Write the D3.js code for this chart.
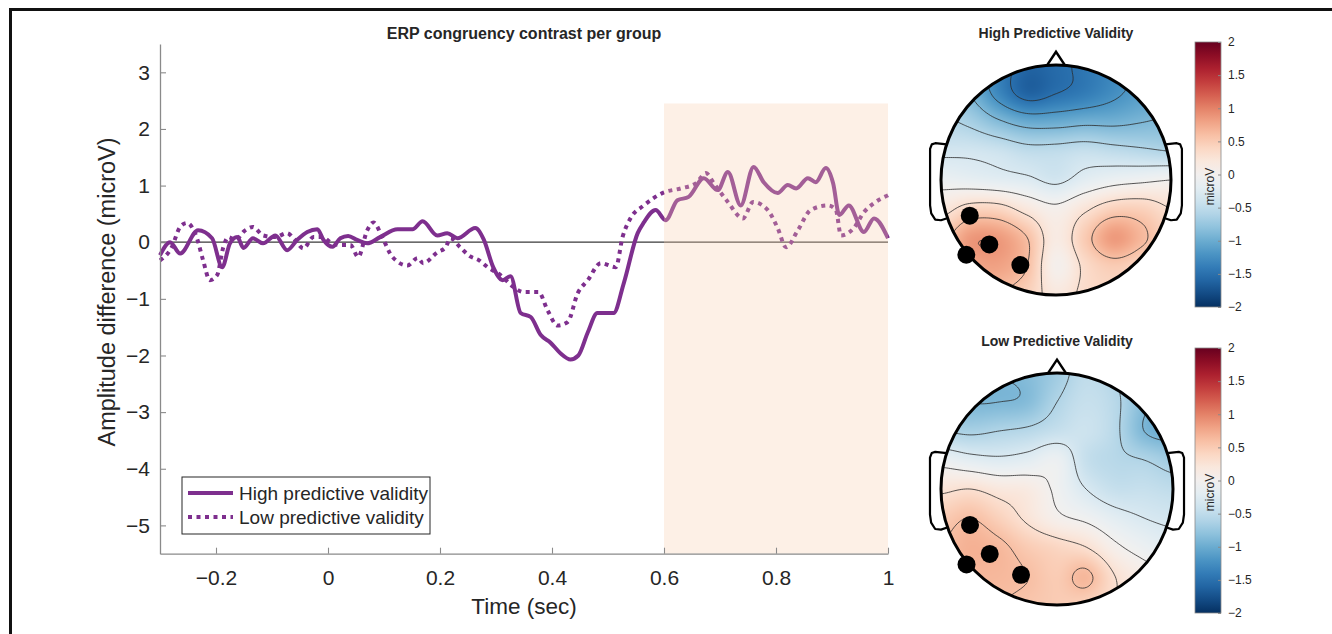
<!DOCTYPE html>
<html lang="en">
<head>
    <meta charset="UTF-8">
    <title>ERP congruency contrast per group</title>
    <script src="https://d3js.org/d3.v7.min.js"></script>
    <style>
        html, body {
            margin: 0;
            padding: 0;
            background: #ffffff;
        }
        svg text {
            font-family: "Liberation Sans", Arial, Helvetica, sans-serif;
            fill: #262626;
        }
    </style>
</head>
<body>
<svg id="canvas" width="1332" height="634"></svg>

<script>
// ---- ERP difference waves (time in sec, amplitude in microV) ----
let highT = [-0.300, -0.282, -0.264, -0.232, -0.207, -0.189, -0.175, -0.162, -0.151, -0.134, -0.116, -0.094, -0.073, -0.055, -0.037, -0.019, -0.008, 0.008, 0.022, 0.036, 0.052, 0.070, 0.093, 0.124, 0.151, 0.169, 0.195, 0.213, 0.231, 0.263, 0.278, 0.295, 0.312, 0.326, 0.344, 0.362, 0.380, 0.397, 0.415, 0.433, 0.447, 0.464, 0.481, 0.510, 0.528, 0.553, 0.564, 0.585, 0.603, 0.624, 0.644, 0.671, 0.696, 0.714, 0.737, 0.760, 0.778, 0.803, 0.821, 0.836, 0.857, 0.871, 0.889, 0.902, 0.913, 0.930, 0.957, 0.975, 1.000]
let highV = [-0.23, 0.00, -0.20, 0.21, 0.07, -0.44, -0.02, 0.09, -0.10, 0.07, -0.02, 0.12, -0.14, 0.04, 0.18, 0.23, 0.04, -0.08, 0.07, 0.11, 0.04, -0.02, 0.09, 0.23, 0.23, 0.37, 0.12, 0.16, 0.07, 0.25, 0.05, -0.44, -0.67, -0.60, -1.25, -1.32, -1.64, -1.77, -1.96, -2.07, -2.00, -1.59, -1.25, -1.25, -0.73, 0.16, 0.35, 0.57, 0.39, 0.74, 0.80, 1.13, 0.92, 1.24, 0.65, 1.33, 1.06, 0.87, 1.01, 0.95, 1.13, 1.06, 1.31, 1.04, 0.48, 0.65, 0.18, 0.42, 0.07]

let lowT = [-0.300, -0.279, -0.264, -0.252, -0.234, -0.223, -0.211, -0.198, -0.187, -0.178, -0.166, -0.148, -0.134, -0.116, -0.094, -0.073, -0.059, -0.044, -0.026, -0.009, 0.004, 0.022, 0.040, 0.054, 0.070, 0.081, 0.099, 0.115, 0.142, 0.160, 0.170, 0.195, 0.210, 0.219, 0.236, 0.254, 0.270, 0.285, 0.308, 0.331, 0.349, 0.376, 0.392, 0.410, 0.428, 0.446, 0.464, 0.487, 0.514, 0.526, 0.540, 0.564, 0.600, 0.630, 0.657, 0.675, 0.689, 0.714, 0.741, 0.759, 0.785, 0.803, 0.818, 0.839, 0.862, 0.893, 0.907, 0.916, 0.939, 0.957, 0.975, 1.000]
let lowV = [-0.32, -0.09, 0.27, 0.34, 0.07, -0.32, -0.67, -0.58, -0.09, 0.09, 0.04, 0.21, 0.27, 0.12, 0.09, 0.16, 0.04, -0.11, 0.09, 0.09, 0.00, -0.05, -0.05, -0.26, 0.21, 0.35, 0.04, -0.26, -0.41, -0.28, -0.37, -0.18, -0.09, 0.07, -0.09, -0.25, -0.32, -0.44, -0.58, -0.79, -0.88, -0.88, -1.20, -1.47, -1.41, -0.90, -0.67, -0.37, -0.44, 0.09, 0.42, 0.65, 0.88, 0.95, 1.04, 1.22, 1.04, 0.71, 0.42, 0.71, 0.57, 0.25, -0.09, 0.21, 0.57, 0.65, 0.57, 0.12, 0.25, 0.53, 0.69, 0.83]

let seriesNames = ['High predictive validity', 'Low predictive validity']
let xTicks = [-0.2, 0, 0.2, 0.4, 0.6, 0.8, 1]
let yTicks = [-5, -4, -3, -2, -1, 0, 1, 2, 3]
let testWindow = [0.6, 1.0]        // shaded analysis window (sec)
let windowTop = 2.45

// ---- topographies: 9x9 grid over the head, rows front->back, cols left->right (microV) ----
let topoTitles = ['High Predictive Validity', 'Low Predictive Validity']
let highGrid = [
    [-0.8, -1.0, -1.35, -1.6, -1.55, -1.45, -1.3, -1.1, -1.0],
    [-0.7, -0.9, -1.3, -1.6, -1.5, -1.4, -1.25, -1.1, -1.0],
    [-0.55, -0.65, -0.85, -1.0, -1.0, -0.95, -0.95, -0.9, -0.85],
    [-0.35, -0.35, -0.4, -0.5, -0.5, -0.45, -0.5, -0.55, -0.6],
    [-0.1, -0.15, -0.2, -0.25, -0.35, -0.2, -0.1, -0.05, 0.0],
    [0.2, 0.4, 0.4, 0.2, 0.05, 0.25, 0.45, 0.45, 0.3],
    [0.5, 0.85, 0.85, 0.6, 0.15, 0.5, 0.85, 0.65, 0.4],
    [0.6, 0.75, 0.8, 0.6, 0.05, 0.35, 0.5, 0.4, 0.3],
    [0.5, 0.6, 0.6, 0.45, 0.2, 0.35, 0.4, 0.35, 0.3]
]
let lowGrid = [
    [-0.8, -0.9, -0.9, -0.85, -0.7, -0.5, -0.6, -0.8, -1.0],
    [-0.8, -0.9, -0.9, -0.85, -0.6, -0.45, -0.55, -0.85, -1.0],
    [-0.6, -0.65, -0.6, -0.55, -0.45, -0.4, -0.55, -0.9, -1.0],
    [-0.1, -0.2, -0.25, -0.2, -0.1, -0.45, -0.55, -0.6, -0.7],
    [0.25, 0.3, 0.2, 0.15, -0.05, -0.3, -0.45, -0.45, -0.5],
    [0.5, 0.6, 0.45, 0.25, 0.05, -0.05, -0.2, -0.3, -0.35],
    [0.6, 0.7, 0.65, 0.5, 0.4, 0.3, 0.05, -0.1, -0.2],
    [0.6, 0.65, 0.65, 0.6, 0.5, 0.65, 0.3, 0.1, 0.0],
    [0.55, 0.6, 0.6, 0.55, 0.5, 0.45, 0.3, 0.1, 0.0]
]
// highlighted electrodes (normalised head coords, x right, y back)
let clusterX = [-0.75, -0.58, -0.78, -0.31]
let clusterY = [0.31, 0.56, 0.65, 0.74]
let contourLevels = [-1.5, -1.2, -0.9, -0.6, -0.3, 0, 0.3, 0.6, 0.9, 1.2]
let cbarTicks = [-2, -1.5, -1, -0.5, 0, 0.5, 1, 1.5, 2]

let purple = '#7e2f8e'
let svg = d3.select('#canvas')
let fmt = (d) => d < 0 ? '\u2212' + Math.abs(d) : String(d)

// frame
svg.append('line').attr('x1', 10).attr('x2', 1332).attr('y1', 9.5).attr('y2', 9.5)
    .attr('stroke', '#111').attr('stroke-width', 3)
svg.append('line').attr('x1', 10.5).attr('x2', 10.5).attr('y1', 8).attr('y2', 634)
    .attr('stroke', '#111').attr('stroke-width', 3)

// ================= ERP line chart =================
let x = d3.scaleLinear().domain([-0.3, 1]).range([160, 888])
let y = d3.scaleLinear().domain([-5.5, 3.5]).range([553.7, 44])

let line = d3.line()
    .x((d) => x(d[0]))
    .y((d) => y(d[1]))
    .curve(d3.curveMonotoneX)

let highData = highT.map((t, i) => [t, highV[i]])
let lowData = lowT.map((t, i) => [t, lowV[i]])

svg.append('line')
    .attr('x1', x(-0.3)).attr('x2', x(1)).attr('y1', y(0)).attr('y2', y(0))
    .attr('stroke', '#3a3a3a').attr('stroke-width', 1.2)

svg.append('path').datum(lowData).attr('d', line)
    .attr('fill', 'none').attr('stroke', purple).attr('stroke-width', 4)
    .attr('stroke-dasharray', '4 4.5')
svg.append('path').datum(highData).attr('d', line)
    .attr('fill', 'none').attr('stroke', purple).attr('stroke-width', 4)
    .attr('stroke-linejoin', 'round')

// translucent window patch drawn over the lines
svg.append('rect')
    .attr('x', x(testWindow[0])).attr('y', y(windowTop))
    .attr('width', x(testWindow[1]) - x(testWindow[0]))
    .attr('height', y(-5.5) - y(windowTop))
    .attr('fill', '#f8cdac').attr('fill-opacity', 0.3)

// axes
let xAxis = svg.append('g').attr('transform', 'translate(0,' + y(-5.5) + ')')
    .call(d3.axisBottom(x).tickValues(xTicks).tickFormat(fmt).tickSizeInner(-6).tickSizeOuter(0).tickPadding(16))
let yAxis = svg.append('g').attr('transform', 'translate(' + x(-0.3) + ',0)')
    .call(d3.axisLeft(y).tickValues(yTicks).tickFormat(fmt).tickSizeInner(-6).tickSizeOuter(0).tickPadding(10))

;[xAxis, yAxis].forEach((g) => {
    g.select('.domain').attr('stroke', '#8a8a8a').attr('stroke-width', 1.3)
    g.selectAll('.tick line').attr('stroke', '#8a8a8a').attr('stroke-width', 1.1)
    g.selectAll('.tick text').attr('font-size', 21).attr('fill', '#262626')
        .attr('font-family', '"Liberation Sans", Arial, sans-serif')
})

svg.append('text').attr('x', 524).attr('y', 39).attr('text-anchor', 'middle')
    .attr('font-size', 16).attr('font-weight', 'bold').text('ERP congruency contrast per group')
svg.append('text').attr('x', 524).attr('y', 614).attr('text-anchor', 'middle')
    .attr('font-size', 22.5).text('Time (sec)')
svg.append('text').attr('transform', 'translate(115,292) rotate(-90)')
    .attr('text-anchor', 'middle').attr('font-size', 23.5).text('Amplitude difference (microV)')

// legend
let legend = svg.append('g')
legend.append('rect').attr('x', 182).attr('y', 477).attr('width', 248).attr('height', 57)
    .attr('fill', '#fff').attr('stroke', '#262626').attr('stroke-width', 1)
seriesNames.forEach((name, i) => {
    let ly = 493 + i * 24
    legend.append('line').attr('x1', 188).attr('x2', 233).attr('y1', ly).attr('y2', ly)
        .attr('stroke', purple).attr('stroke-width', 4)
        .attr('stroke-dasharray', i === 1 ? '4 4.5' : null)
    legend.append('text').attr('x', 239).attr('y', ly + 7).attr('font-size', 19).text(name)
})

// ================= topographies =================
let color = d3.scaleSequential(d3.interpolateRdBu).domain([2, -2])

let cubic = (p0, p1, p2, p3, t) =>
    p1 + 0.5 * t * (p2 - p0 + t * (2 * p0 - 5 * p1 + 4 * p2 - p3 + t * (3 * (p1 - p2) + p3 - p0)))

let sampleGrid = (grid, xn, yn) => {
    let n = grid.length - 1
    let gx = (xn + 1) / 2 * n, gy = (yn + 1) / 2 * n
    gx = Math.max(0, Math.min(n, gx)); gy = Math.max(0, Math.min(n, gy))
    let i = Math.min(n - 1, Math.floor(gx)), j = Math.min(n - 1, Math.floor(gy))
    let tx = gx - i, ty = gy - j
    let at = (r, c) => grid[Math.max(0, Math.min(n, r))][Math.max(0, Math.min(n, c))]
    let rows = [-1, 0, 1, 2].map((dj) =>
        cubic(at(j + dj, i - 1), at(j + dj, i), at(j + dj, i + 1), at(j + dj, i + 2), tx))
    return cubic(rows[0], rows[1], rows[2], rows[3], ty)
}

let drawTopo = (grid, title, cx, cy, r, barTop, idx) => {
    let g = svg.append('g')

    g.append('text').attr('x', cx).attr('y', cy - r - 27).attr('text-anchor', 'middle')
        .attr('font-size', 14).attr('font-weight', 'bold').text(title)

    let clipId = 'head' + idx
    svg.append('clipPath').attr('id', clipId)
        .append('circle').attr('cx', cx).attr('cy', cy).attr('r', r)

    // smooth colour field
    let size = Math.ceil(2 * r)
    let cnv = document.createElement('canvas')
    cnv.width = size; cnv.height = size
    let ctx = cnv.getContext('2d')
    let img = ctx.createImageData(size, size)
    for (let py = 0; py < size; py++) {
        for (let px = 0; px < size; px++) {
            let v = sampleGrid(grid, (px + 0.5) / size * 2 - 1, (py + 0.5) / size * 2 - 1)
            let c = d3.rgb(color(Math.max(-2, Math.min(2, v))))
            let k = (py * size + px) * 4
            img.data[k] = c.r; img.data[k + 1] = c.g; img.data[k + 2] = c.b; img.data[k + 3] = 255
        }
    }
    ctx.putImageData(img, 0, 0)
    g.append('image').attr('href', cnv.toDataURL())
        .attr('x', cx - r).attr('y', cy - r).attr('width', size).attr('height', size)
        .attr('clip-path', 'url(#' + clipId + ')')

    // contour lines
    let N = 121, ext = 1.1
    let vals = new Array(N * N)
    for (let j = 0; j < N; j++) {
        for (let i = 0; i < N; i++) {
            vals[j * N + i] = sampleGrid(grid, -ext + i * 2 * ext / (N - 1), -ext + j * 2 * ext / (N - 1))
        }
    }
    let s = 2 * ext * r / (N - 1)
    let proj = d3.geoIdentity().scale(s).translate([cx - ext * r - 0.5 * s, cy - ext * r - 0.5 * s])
    let contours = d3.contours().size([N, N]).thresholds(contourLevels)(vals)
    g.append('g').attr('clip-path', 'url(#' + clipId + ')')
        .selectAll('path').data(contours).enter().append('path')
        .attr('d', d3.geoPath(proj))
        .attr('fill', 'none').attr('stroke', '#2b2b2b').attr('stroke-width', 0.8)

    // electrodes
    clusterX.forEach((ex, i) => {
        g.append('circle').attr('cx', cx + ex * r).attr('cy', cy + clusterY[i] * r)
            .attr('r', 9).attr('fill', '#000')
    })

    // head, nose, ears
    let hx = (v) => cx + v * r, hy = (v) => cy + v * r
    let outline = d3.line().x((d) => hx(d[0])).y((d) => hy(d[1]))
    g.append('circle').attr('cx', cx).attr('cy', cy).attr('r', r)
        .attr('fill', 'none').attr('stroke', '#000').attr('stroke-width', 3)
    g.append('path').attr('d', outline([[-0.08, -0.995], [0, -1.115], [0.08, -0.995]]))
        .attr('fill', 'none').attr('stroke', '#000').attr('stroke-width', 2.5)
    let ear = [[-0.95, -0.31], [-1.05, -0.32], [-1.08, -0.31], [-1.095, -0.27], [-1.095, 0.22], [-1.085, 0.29], [-1.05, 0.345], [-1.0, 0.35], [-0.94, 0.33]]
    g.append('path').attr('d', outline(ear)).attr('fill', 'none').attr('stroke', '#000')
        .attr('stroke-width', 2.2).attr('stroke-linejoin', 'round')
    g.append('path').attr('d', outline(ear.map((p) => [-p[0], p[1]])))
        .attr('fill', 'none').attr('stroke', '#000').attr('stroke-width', 2.2).attr('stroke-linejoin', 'round')

    // colour bar
    let barX = 1195, barW = 26, barH = 265
    let cb = d3.scaleLinear().domain([-2, 2]).range([barTop + barH, barTop])
    let gradId = 'grad' + idx
    let grad = svg.append('defs').append('linearGradient').attr('id', gradId)
        .attr('x1', 0).attr('x2', 0).attr('y1', 1).attr('y2', 0)
    d3.range(0, 1.0001, 0.05).forEach((t) => {
        grad.append('stop').attr('offset', t).attr('stop-color', color(-2 + 4 * t))
    })
    g.append('rect').attr('x', barX).attr('y', barTop).attr('width', barW).attr('height', barH)
        .attr('fill', 'url(#' + gradId + ')').attr('stroke', '#8a8a8a').attr('stroke-width', 0.8)
    let bAxis = g.append('g').attr('transform', 'translate(' + (barX + barW) + ',0)')
        .call(d3.axisRight(cb).tickValues(cbarTicks).tickFormat(fmt).tickSizeInner(-3).tickSizeOuter(0).tickPadding(7))
    bAxis.select('.domain').remove()
    bAxis.selectAll('.tick line').attr('stroke', '#8a8a8a')
    bAxis.selectAll('.tick text').attr('font-size', 12).attr('fill', '#262626')
        .attr('font-family', '"Liberation Sans", Arial, sans-serif')
    g.append('text').attr('transform', 'translate(' + (barX + 19) + ',' + (barTop + barH / 2 + 12) + ') rotate(-90)')
        .attr('text-anchor', 'middle').attr('font-size', 12).text('microV')
}

drawTopo(highGrid, topoTitles[0], 1056, 180, 115, 42, 0)
drawTopo(lowGrid, topoTitles[1], 1057, 489, 116, 348, 1)
</script>
</body>
</html>
